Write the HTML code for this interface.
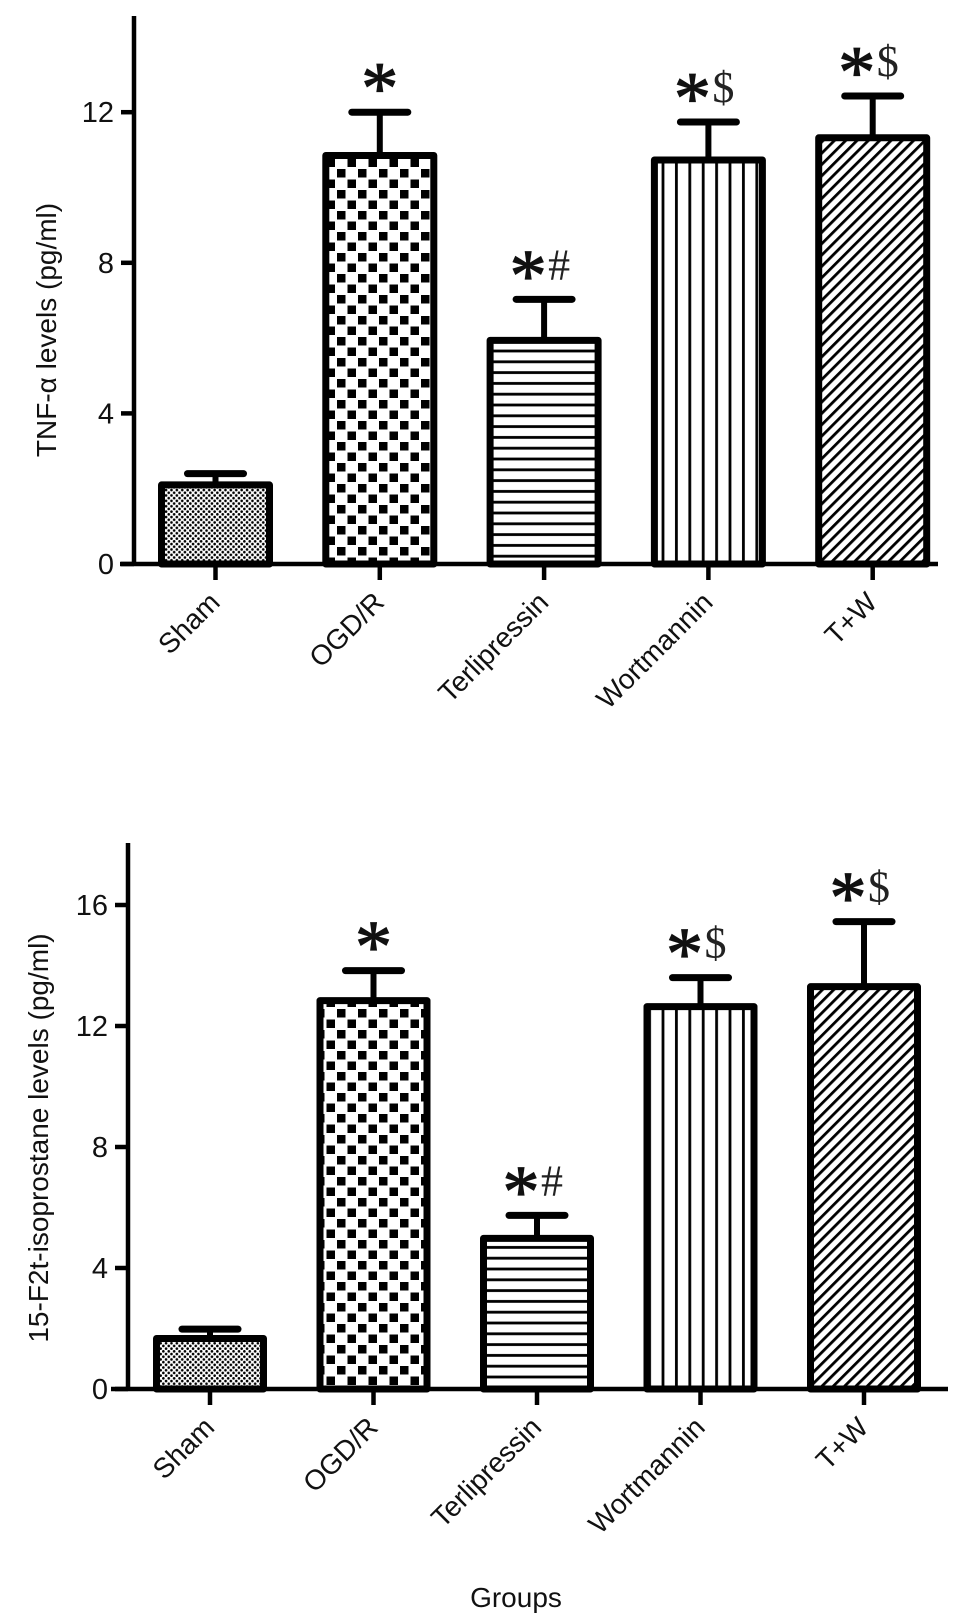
<!DOCTYPE html>
<html><head><meta charset="utf-8"><style>
html,body{margin:0;padding:0;background:#fff;}
svg{display:block;font-family:"Liberation Sans",Arial,sans-serif;}
</style></head><body>
<svg id="fig" width="971" height="1621" viewBox="0 0 971 1621" xmlns="http://www.w3.org/2000/svg">
<defs>
<pattern id="pDots" width="5.4" height="5.4" patternUnits="userSpaceOnUse">
<rect width="5.4" height="5.4" fill="#fff"/><circle cx="1.35" cy="1.35" r="1.3" fill="#000"/><circle cx="4.05" cy="4.05" r="1.3" fill="#000"/>
</pattern>
<pattern id="pCheck" width="21" height="21" patternUnits="userSpaceOnUse">
<rect width="21" height="21" fill="#fff"/><rect x="1" y="1" width="8.5" height="8.5" fill="#000"/><rect x="11.5" y="11.5" width="8.5" height="8.5" fill="#000"/>
</pattern>
<pattern id="pHoriz" width="10" height="10.8" patternUnits="userSpaceOnUse">
<rect width="10" height="10.8" fill="#fff"/><rect y="4" width="10" height="2.8" fill="#000"/>
</pattern>
<pattern id="pVert" width="13.4" height="10" patternUnits="userSpaceOnUse">
<rect width="13.4" height="10" fill="#fff"/><rect x="5" width="2.8" height="10" fill="#000"/>
</pattern>
<pattern id="pDiag" width="8" height="8" patternUnits="userSpaceOnUse" patternTransform="rotate(45)">
<rect width="8" height="8" fill="#fff"/><rect x="0" width="2.8" height="8" fill="#000"/>
</pattern>
</defs>
</svg>
<script>
const categories = ["Sham","OGD/R","Terlipressin","Wortmannin","T+W"];
const tnfValues = [2.1, 10.85, 5.94, 10.73, 11.32];
const tnfErrTop = [2.4, 12.0, 7.03, 11.74, 12.43];
const tnfTicks = [0, 4, 8, 12];
const isoValues = [1.67, 12.84, 4.98, 12.64, 13.3];
const isoErrTop = [1.98, 13.83, 5.74, 13.6, 15.45];
const isoTicks = [0, 4, 8, 12, 16];
const marks = ["", "*", "*#", "*$", "*$"];
const tnfTitle = "TNF-\u03b1 levels (pg/ml)";
const isoTitle = "15-F2t-isoprostane levels (pg/ml)";

const svg = document.getElementById('fig');
const NS = "http://www.w3.org/2000/svg";
const fills = ["url(#pDots)","url(#pCheck)","url(#pHoriz)","url(#pVert)","url(#pDiag)"];
const slugs = ["sham","ogd-r","terlipressin","wortmannin","t-w"];

function mk(tag, attrs, parent){
  const e = document.createElementNS(NS, tag);
  for (const k in attrs) e.setAttribute(k, attrs[k]);
  (parent||svg).appendChild(e);
  return e;
}

function drawChart(cfg){
  const g = mk('g', {});
  
  
  const y = v => cfg.y0 - v * cfg.ppu;
  const x = i => cfg.x0c + i * cfg.step;
  const ya = mk('line', {x1:cfg.ax, y1:cfg.yTop, x2:cfg.ax, y2:cfg.y0+2, stroke:'#000','stroke-width':4.5}, g);
  
  
  cfg.ticks.forEach(t => {
    const tl = mk('line', {x1:cfg.ax-13, y1:y(t), x2:cfg.ax, y2:y(t), stroke:'#000','stroke-width':4.5}, g);
    
    
    const tt = mk('text', {x:cfg.ax-20, y:y(t)+10, 'text-anchor':'end','font-size':29, fill:'#111'}, g);
    tt.textContent = t;
    
    
  });
  const xa = mk('line', {x1:cfg.xaStart, y1:cfg.y0, x2:cfg.xaEnd, y2:cfg.y0, stroke:'#000','stroke-width':4.5}, g);
  
  
  const ttl = mk('text', {x:cfg.titleX, y:cfg.titleY, 'text-anchor':'middle','font-size':28, fill:'#111', transform:`rotate(-90 ${cfg.titleX} ${cfg.titleY})`}, g);
  ttl.textContent = cfg.title;
  
  
  cfg.values.forEach((v, i) => {
    const cx = x(i), half = cfg.bw/2;
    const eb = mk('line', {x1:cx, y1:y(cfg.err[i]), x2:cx, y2:y(v), stroke:'#000','stroke-width':6}, g);
    
    
    const cap = mk('line', {x1:cx-28, y1:y(cfg.err[i]), x2:cx+28, y2:y(cfg.err[i]), stroke:'#000','stroke-width':7,'stroke-linecap':'round'}, g);
    
    
    const bar = mk('rect', {x:cx-half+3.5, y:y(v), width:cfg.bw-7, height:cfg.y0-y(v), fill:fills[i], stroke:'#000','stroke-width':7,'stroke-linejoin':'round'}, g);
    
    
    const tk = mk('line', {x1:cx, y1:cfg.y0, x2:cx, y2:cfg.y0+16, stroke:'#000','stroke-width':4.5}, g);
    
    
    const lx = cx+6, ly = cfg.y0+40;
    const lab = mk('text', {x:lx, y:ly, 'text-anchor':'end','font-size':28, fill:'#111', transform:`rotate(-45 ${lx} ${ly})`}, g);
    lab.textContent = categories[i];
    
    
    const m = marks[i];
    if (m) {
      const sc = y(cfg.err[i]) - 35;
      const hasSecond = m.length > 1;
      const sx = hasSecond ? cx - 16 : cx;
      const st = mk('text', {x:sx, y:sc+36, 'text-anchor':'middle','font-size':74, 'font-family':'"Liberation Serif",serif', fill:'#111', stroke:'#111','stroke-width':1.2}, g);
      st.textContent = '*';
      
      
      if (hasSecond) {
        const s2 = mk('text', {x:cx+4, y:sc+15, 'text-anchor':'start','font-size':44, 'font-family':'"Liberation Serif",serif', fill:'#222'}, g);
        s2.textContent = m[1];
        
        
      }
    }
  });
}

drawChart({name:'tnf-chart', values:tnfValues, err:tnfErrTop, ticks:tnfTicks, title:tnfTitle,
  y0:564, ppu:37.65, yTop:16, ax:134, x0c:215.5, step:164.3, bw:115, xaStart:120, xaEnd:938, titleX:56, titleY:330});
drawChart({name:'isoprostane-chart', values:isoValues, err:isoErrTop, ticks:isoTicks, title:isoTitle,
  y0:1389, ppu:30.25, yTop:843, ax:128, x0c:210, step:163.5, bw:114, xaStart:111, xaEnd:948, titleX:48, titleY:1138});

const grp = mk('text', {x:516, y:1607, 'text-anchor':'middle','font-size':28, fill:'#111'});
grp.textContent = 'Groups';


</script>
</body></html>
